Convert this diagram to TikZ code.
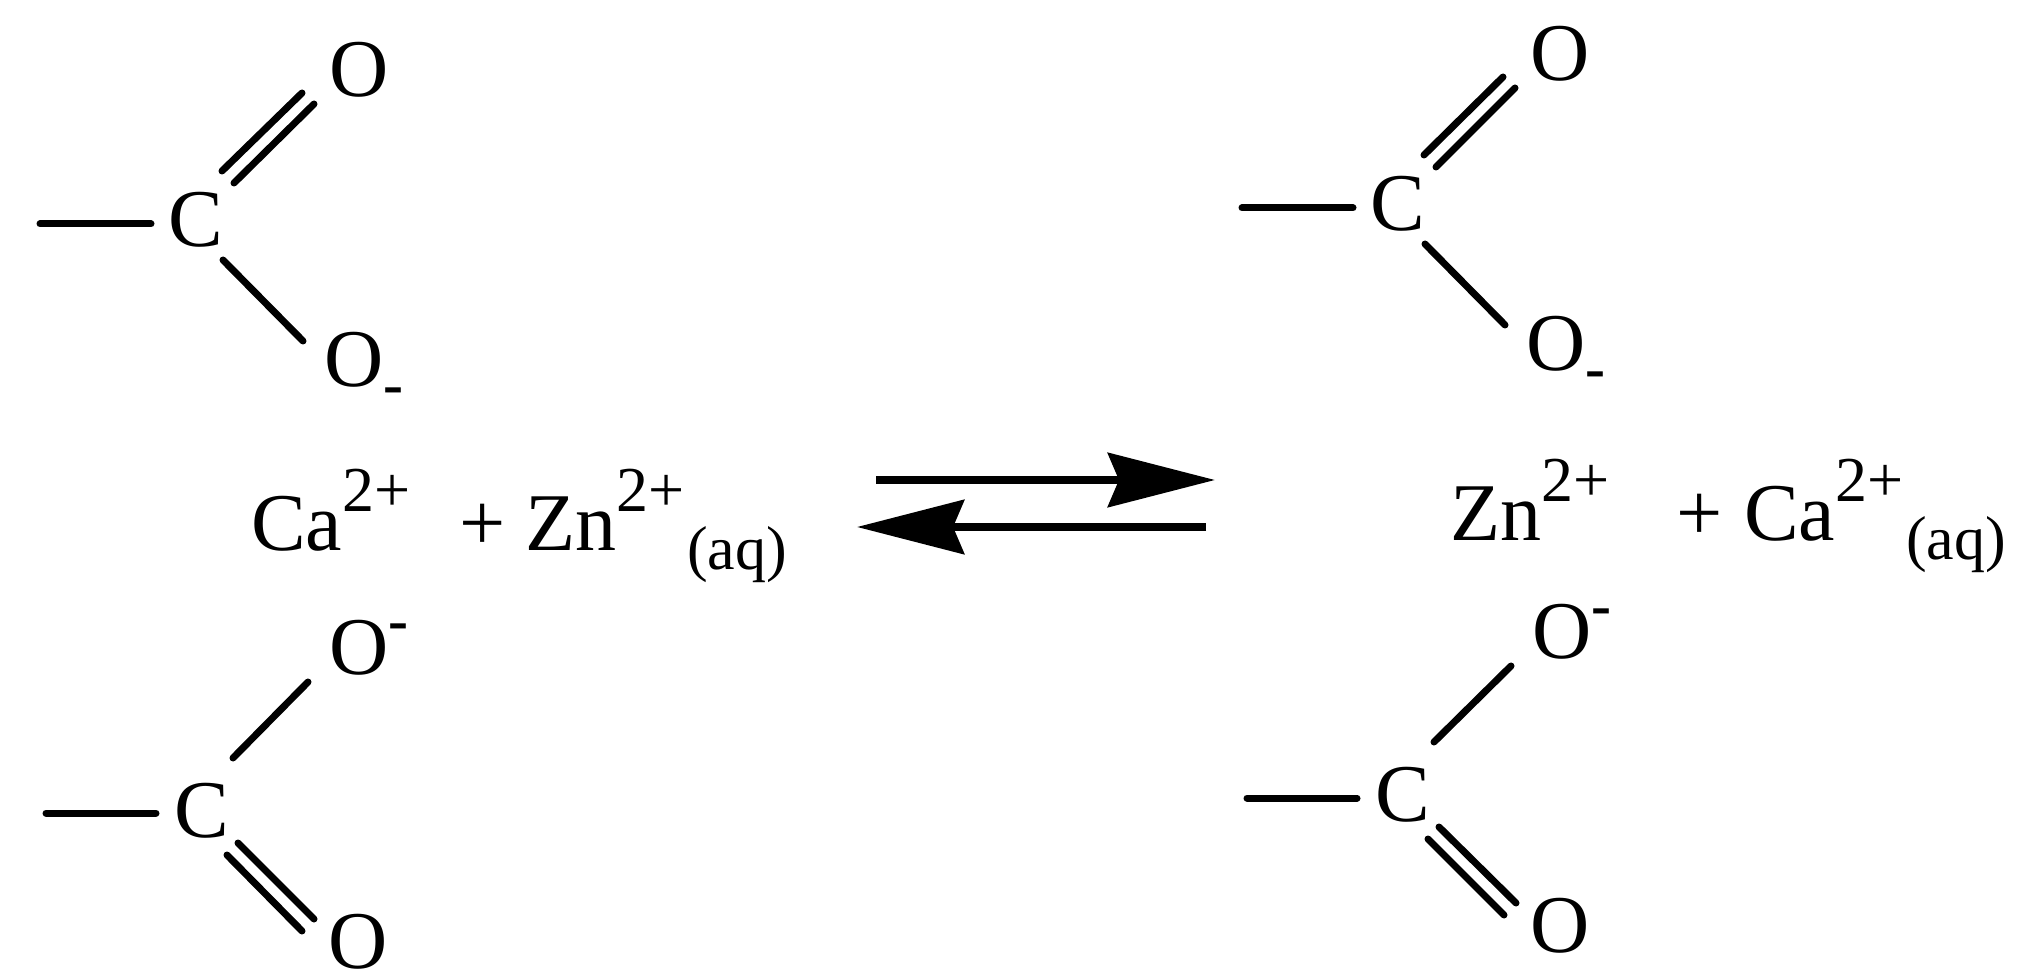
\documentclass[tikz,border=0pt]{standalone}
\usepackage{fontspec}
\setmainfont{Liberation Serif}
\usetikzlibrary{arrows.meta}
\newcommand{\ionchg}[1]{\raisebox{19.5pt}{\fontsize{32}{32}\selectfont #1}}
\newcommand{\ionaq}{\hspace{1.5pt}\raisebox{-9.5pt}{\fontsize{31}{31}\selectfont (aq)}}
\newcommand{\ionminus}[1]{\raisebox{#1}{\fontsize{30}{30}\selectfont\bfseries -}}
\begin{document}
\begin{tikzpicture}[x=.5pt,y=-.5pt,bond/.style={line width=3.5pt,line cap=round},
        eqarrow/.style={line width=4pt,-{Stealth[length=53.5pt,width=27pt,inset=5.5pt]}}]
    \tikzstyle{element}=[anchor=base west,inner sep=0pt,outer sep=0pt,font=\fontsize{41}{45}\selectfont]
    \useasboundingbox (0,0) rectangle (2026,978);

    \node[element] (c1) at (168,247) {C};
    \node[element] (o1) at (329,97) {O};
    \node[element] (o2) at (324,387) {O\ionminus{-9pt}};
    \coordinate (m1) at (40,224);
    \draw[bond] (m1) -- ([shift={(-17,-23)}]c1.base west);
    \draw[bond] ([shift={(54,-76)}]c1.base west) -- ([shift={(-27,-4)}]o1.base west);
    \draw[bond] ([shift={(66,-64)}]c1.base west) -- ([shift={(-15,7)}]o1.base west);
    \draw[bond] ([shift={(55,13)}]c1.base west) -- ([shift={(-21,-46)}]o2.base west);

    \node[element] (c2) at (174,837) {C};
    \node[element] (o3) at (329,675) {O\ionminus{17pt}};
    \node[element] (o4) at (328,968) {O};
    \coordinate (m2) at (46,813);
    \draw[bond] (m2) -- ([shift={(-18,-24)}]c2.base west);
    \draw[bond] ([shift={(59,-79)}]c2.base west) -- ([shift={(-21,7)}]o3.base west);
    \draw[bond] ([shift={(64,6)}]c2.base west) -- ([shift={(-14,-49)}]o4.base west);
    \draw[bond] ([shift={(53,18)}]c2.base west) -- ([shift={(-26,-37)}]o4.base west);

    \node[element] (c3) at (1370,231) {C};
    \node[element] (o5) at (1530,81) {O};
    \node[element] (o6) at (1526,371) {O\ionminus{-9pt}};
    \coordinate (m3) at (1242,208);
    \draw[bond] (m3) -- ([shift={(-17,-23)}]c3.base west);
    \draw[bond] ([shift={(54,-76)}]c3.base west) -- ([shift={(-27,-4)}]o5.base west);
    \draw[bond] ([shift={(66,-64)}]c3.base west) -- ([shift={(-15,7)}]o5.base west);
    \draw[bond] ([shift={(55,13)}]c3.base west) -- ([shift={(-21,-46)}]o6.base west);

    \node[element] (c4) at (1375,821) {C};
    \node[element] (o7) at (1532,659) {O\ionminus{17pt}};
    \node[element] (o8) at (1530,952) {O};
    \coordinate (m4) at (1247,798);
    \draw[bond] (m4) -- ([shift={(-18,-23)}]c4.base west);
    \draw[bond] ([shift={(59,-79)}]c4.base west) -- ([shift={(-21,7)}]o7.base west);
    \draw[bond] ([shift={(64,6)}]c4.base west) -- ([shift={(-14,-49)}]o8.base west);
    \draw[bond] ([shift={(53,18)}]c4.base west) -- ([shift={(-26,-37)}]o8.base west);

    \node[element] (ca1) at (251,551) {Ca\ionchg{2+}};
    \node[element] (plus1) at (459,551) {+};
    \node[element] (zn1) at (525,551) {Zn\ionchg{2+}\ionaq};
    \node[element] (zn2) at (1450,541) {Zn\ionchg{2+}};
    \node[element] (plus2) at (1676,541) {+};
    \node[element] (ca2) at (1744,541) {Ca\ionchg{2+}\ionaq};

    \coordinate (fwdstart) at (876,480);
    \coordinate (fwdend) at (1215,480);
    \coordinate (revstart) at (1206,527);
    \coordinate (revend) at (857,527);
    \draw[eqarrow] (fwdstart) -- (fwdend);
    \draw[eqarrow] (revstart) -- (revend);

  \end{tikzpicture}
\end{document}
